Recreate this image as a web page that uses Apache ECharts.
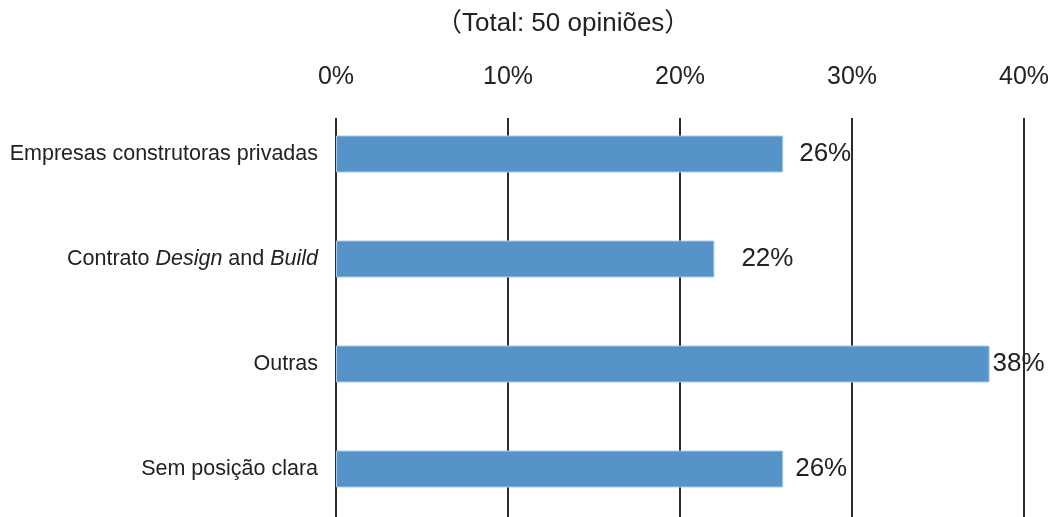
<!DOCTYPE html>
<html>
<head>
<meta charset="utf-8">
<script src="https://cdn.jsdelivr.net/npm/echarts@6/dist/echarts.min.js"></script>
<style>
  html, body { margin: 0; padding: 0; background: #fff; }
  #chart { width: 1056px; height: 517px; }
</style>
</head>
<body>
<div id="chart"></div>
<script>
// Share of opinions per option (percent)
const categories = [
  'Empresas construtoras privadas',
  'Contrato {i|Design} and {i|Build}',
  'Outras',
  'Sem posição clara'
];
const values = [26, 22, 38, 26];
const valueLabels = ['26%', '22%', '38%', '26%'];
const labelGaps = [16, 27, 3, 12];
const tickValues = [0, 10, 20, 30, 40];
const titleText = '（Total: 50 opiniões）';

const FONT = '"Liberation Sans", Arial, "Noto Sans CJK JP", sans-serif';
const INK = '#222';

const chart = echarts.init(document.getElementById('chart'), null, { renderer: 'canvas' });

const axisMin = tickValues[0];
const axisMax = tickValues[tickValues.length - 1];
const axisStep = tickValues[1] - tickValues[0];

chart.setOption({
  animation: false,
  backgroundColor: '#fff',
  title: {
    text: titleText,
    left: 431,
    top: 6,
    textStyle: { fontFamily: FONT, fontSize: 26, fontWeight: 'normal', color: INK }
  },
  grid: [
    // bars: first and last category sit on the grid edges
    { left: 336, right: 32, top: 154, height: 315, containLabel: false },
    // vertical reference lines and tick labels
    { left: 336, right: 32, top: 118, bottom: 0, containLabel: false }
  ],
  xAxis: [
    {
      gridIndex: 0, type: 'value', min: axisMin, max: axisMax, interval: axisStep,
      show: false
    },
    {
      gridIndex: 1, type: 'value', position: 'top', min: axisMin, max: axisMax, interval: axisStep,
      axisLine: { show: false },
      axisTick: { show: false },
      splitLine: { show: true, lineStyle: { color: '#2b2b2b', width: 2 } },
      axisLabel: {
        margin: 28,
        formatter: v => v + '%',
        fontFamily: FONT, fontSize: 25, color: INK
      }
    }
  ],
  yAxis: [
    {
      gridIndex: 0, type: 'category', data: categories, inverse: true,
      boundaryGap: false,
      axisLine: { show: false },
      axisTick: { show: false },
      splitLine: { show: false },
      axisLabel: {
        margin: 18,
        fontFamily: FONT, fontSize: 21.5, color: INK,
        rich: { i: { fontFamily: FONT, fontSize: 21.5, fontStyle: 'italic', color: INK } }
      }
    },
    {
      gridIndex: 1, type: 'value', show: false
    }
  ],
  series: [{
    type: 'bar',
    xAxisIndex: 0,
    yAxisIndex: 0,
    barWidth: 37,
    data: values.map((v, i) => ({
      value: v,
      label: {
        show: true, position: 'right', distance: labelGaps[i],
        formatter: () => valueLabels[i],
        fontFamily: FONT, fontSize: 26, color: INK
      }
    })),
    itemStyle: { color: '#5593c8', borderColor: '#a9cbe9', borderWidth: 1 }
  }]
});
</script>
</body>
</html>
